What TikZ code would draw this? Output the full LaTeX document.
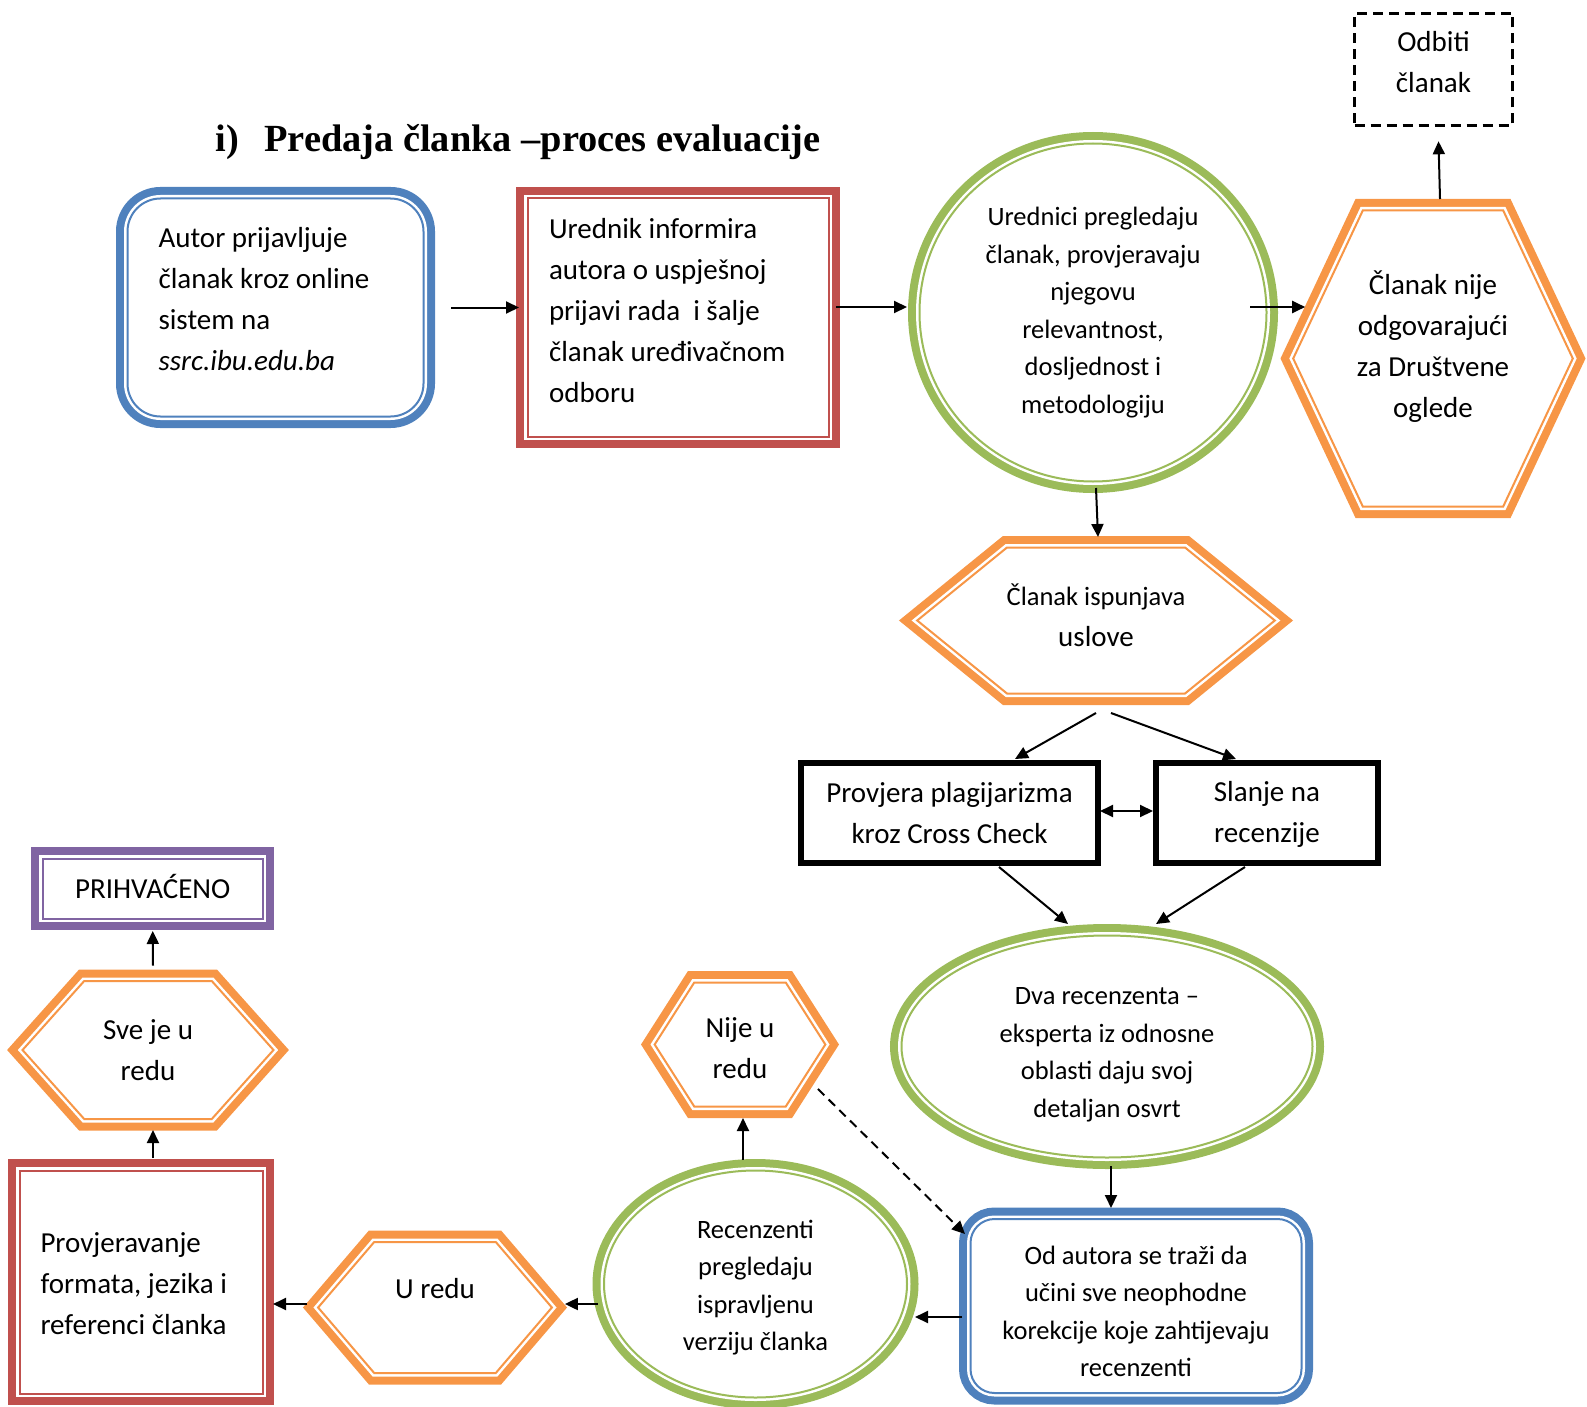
\documentclass[tikz,border=0pt]{standalone}
\usepackage{fontspec}
\setmainfont{Carlito}
\newfontfamily\titlefont{Liberation Serif}
\usetikzlibrary{shapes.geometric,arrows.meta,calc,backgrounds}
\definecolor{cblue}{HTML}{4F81BD}
\definecolor{cred}{HTML}{C0504D}
\definecolor{cgreen}{HTML}{9BBB59}
\definecolor{corange}{HTML}{F79646}
\definecolor{cpurple}{HTML}{8064A2}
\newcommand\hexof[2]{(#1.west) -- ([xshift=#2pt]#1.north west) -- ([xshift=-#2pt]#1.north east) -- (#1.east) -- ([xshift=-#2pt]#1.south east) -- ([xshift=#2pt]#1.south west) -- cycle}
\newcommand\natsp{\spaceskip=0pt\xspaceskip=0pt\relax}
\tikzset{
  dbl/.style={fill=white, draw=#1, line width=2pt,
    preaction={draw=#1, line width=23pt},
    preaction={draw=white, line width=7pt}},
  fbig/.style={font=\fontsize{29}{41}\selectfont},
  fsmall/.style={font=\fontsize{26.5}{37.5}\selectfont},
  rbox/.style={rectangle, inner sep=0pt, outer sep=0pt},
  ebox/.style={ellipse, inner sep=0pt, outer sep=0pt, align=center},
  hexn/.style={rectangle, inner sep=0pt, outer sep=0pt, align=center},
  blackbox/.style={rectangle, draw=black, fill=white, line width=6pt, inner sep=0pt, outer sep=0pt, align=center},
  arr/.style={draw=black, line width=2pt, -{Triangle[length=13pt,width=12pt]}},
  darr/.style={draw=black, line width=2pt, {Triangle[length=13pt,width=12pt]}-{Triangle[length=13pt,width=12pt]}},
}
\begin{document}
\begin{tikzpicture}[x=1pt,y=-1pt]
\useasboundingbox (0,0) rectangle (1587,1407);

% title
\node[anchor=base west, inner sep=0pt, font=\titlefont\bfseries\fontsize{38.4}{40}\selectfont] (title) at (215.6,152) {i)\hspace{25pt}Predaja članka –proces evaluacije};

% top row
\node[rbox, dbl=cblue, rounded corners=33pt, minimum width=296pt, minimum height=218pt,
  label={[fbig, text width=234pt, yshift=8pt]center:{\natsp Autor prijavljuje\\članak kroz online\\sistem na\\\textit{ssrc.ibu.edu.ba}}}] (n1) at (275.5,307.5) {};

\node[rbox, dbl=cred, minimum width=301pt, minimum height=238pt,
  label={[fbig, text width=258pt, yshift=7pt]center:{\natsp Urednik informira\\autora o uspješnoj\\prijavi rada\ \ i šalje\\članak uređivačnom\\odboru}}] (n2) at (678,317.5) {};

\node[ebox, dbl=cgreen, fsmall, minimum width=347pt, minimum height=338pt] (n3) at (1093,312.5)
  {Urednici pregledaju\\članak, provjeravaju\\njegovu\\relevantnost,\\dosljednost i\\metodologiju};

\node[hexn, minimum width=279.6pt, minimum height=296pt,
  label={[fbig, align=center, yshift=12pt]center:{Članak nije\\odgovarajući\\za Društvene\\oglede}}] (h4) at (1433,358.5) {};

\node[rbox, draw=black, line width=2.5pt, dash pattern=on 10pt off 6pt, minimum width=158pt, minimum height=112pt,
  label={[fbig, align=center, yshift=7.5pt]center:{Odbiti\\članak}}] (od) at (1433.5,69.3) {};

% middle
\node[hexn, minimum width=357.6pt, minimum height=146pt,
  label={[font=\fontsize{29}{40.5}\selectfont, align=center, yshift=5pt]center:{{\fontsize{26.5}{40.5}\selectfont Članak ispunjava}\\uslove}}] (h5) at (1096,620.5) {};

\node[blackbox, minimum width=297pt, minimum height=100pt,
  label={[fbig, align=center]center:{Provjera plagijarizma\\kroz Cross Check}}] (pv) at (949.5,813) {};
\node[blackbox, minimum width=222pt, minimum height=100pt,
  label={[fbig, align=center, yshift=-1pt]center:{Slanje na\\recenzije}}] (sl) at (1267,813) {};

\node[ebox, dbl=cgreen, minimum width=411pt, minimum height=222pt,
  label={[fsmall, align=center, yshift=-8.5pt]center:{Dva recenzenta –\\eksperta iz odnosne\\oblasti daju svoj\\detaljan osvrt}}] (dva) at (1107,1046.5) {};

% bottom row
\node[rbox, dbl=cblue, rounded corners=24pt, minimum width=331pt, minimum height=174pt,
  label={[fsmall, align=center, yshift=-5.5pt]center:{Od autora se traži da\\učini sve neophodne\\korekcije koje zahtijevaju\\recenzenti}}] (oa) at (1136,1306) {};

\node[ebox, dbl=cgreen, minimum width=303pt, minimum height=227pt,
  label={[fsmall, align=center, yshift=-3.5pt]center:{Recenzenti\\pregledaju\\ispravljenu\\verziju članka}}] (rz) at (755.5,1284) {};

\node[hexn, minimum width=170.7pt, minimum height=124pt,
  label={[fbig, align=center, yshift=-4pt]center:{Nije u\\redu}}] (nr) at (740,1044.5) {};

\node[hexn, minimum width=233.8pt, minimum height=131pt,
  label={[fbig, yshift=18.5pt]center:{U redu}}] (ur) at (435,1307.5) {};

\node[rbox, dbl=cred, minimum width=243pt, minimum height=223pt,
  label={[fbig, text width=201pt, yshift=-1.5pt]center:{\natsp Provjeravanje\\formata, jezika i\\referenci članka}}] (pr) at (141,1282) {};

\node[hexn, fbig, minimum width=251pt, minimum height=138pt] (sv) at (148,1050) {Sve je u\\redu};

\node[rbox, dbl=cpurple, minimum width=220pt, minimum height=60pt,
  label={[fbig, yshift=2pt]center:{PRIHVAĆENO}}] (pa) at (152.7,888.5) {};

% hexagon outlines
\begin{scope}[on background layer]
  \draw[dbl=corange] \hexof{h4}{69.6};
  \draw[dbl=corange] \hexof{h5}{89.8};
  \draw[dbl=corange] \hexof{nr}{39.6};
  \draw[dbl=corange] \hexof{ur}{56.1};
  \draw[dbl=corange] \hexof{sv}{61.7};
\end{scope}

% connectors
\draw[arr] ($(n1.east)+(27.5,0)$) -- ($(n1.east -| n2.west)+(-8.5,0)$);
\draw[arr] ($(n2.east)+(7.5,-10.5)$) -- ($(n2.east -| n3.west)+(-12.5,-10.5)$);
\draw[arr] ($(n3.east)+(-16.5,-5.5)$) -- ($(n3.east -| h4.west)+(12,-5.5)$);
\draw[arr] ($(h4.north)+(7,-11.5)$) -- ($(od.south)+(5,16)$);
\draw[arr] ($(n3.south)+(3,6.5)$) -- ($(h5.north)+(2,-10.5)$);
\draw[arr] ($(h5.south)+(0,19.5)$) -- ($(pv.north)+(65.5,-4)$);
\draw[arr] ($(h5.south)+(15,19.5)$) -- ($(sl.north)+(-31,-4)$);
\draw[darr] ($(pv.east)+(2,-2)$) -- ($(sl.west)+(-3,-2)$);
\draw[arr] ($(pv.south)+(49.5,4)$) -- ($(dva.north)+(-39,-11.5)$);
\draw[arr] ($(sl.south)+(-22,4)$) -- ($(dva.north)+(49,-11.5)$);
\draw[arr] ($(dva.south)+(4,8.5)$) -- ($(dva.south |- oa.north)+(4,-11)$);
\draw[arr] ($(oa.west)+(-8.5,11)$) -- ($(oa.west -| rz.east)+(8,11)$);
\draw[arr] ($(rz.north)+(-12.5,-10.5)$) -- ($(nr.south)+(3,11.5)$);
\draw[arr, dash pattern=on 9pt off 6pt] ($(nr.east)+(-7.4,44.5)$) -- ($(oa.north west)+(-5.5,15)$);
\draw[arr] ($(rz.west)+(-6,20)$) -- ($(ur.east)+(13,-3.5)$);
\draw[arr] ($(ur.west)+(-11,-3.5)$) -- ($(ur.west -| pr.east)+(10.5,-3.5)$);
\draw[arr] ($(pr.north)+(12,-12.5)$) -- ($(sv.south)+(5,11)$);
\draw[arr] ($(sv.north)+(5,-15.5)$) -- ($(pa.south)+(0,12.5)$);
\end{tikzpicture}
\end{document}
